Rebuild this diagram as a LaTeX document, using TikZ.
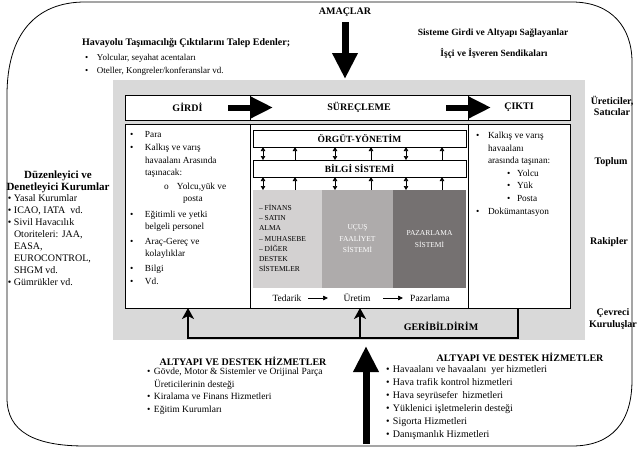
\documentclass[tikz,border=0pt]{standalone}
\usepackage{fontspec}
\setmainfont{Liberation Serif}
\usetikzlibrary{arrows.meta}
\definecolor{bggray}{HTML}{D9D9D9}
\definecolor{blkA}{HTML}{D3D1D1}
\definecolor{blkB}{HTML}{AEABAB}
\definecolor{blkC}{HTML}{757171}
\newcommand{\bul}[1][12pt]{\makebox[#1][l]{\textbullet}}
\newcommand{\ind}[1][12pt]{\hspace*{#1}}
\begin{document}
\begin{tikzpicture}[x=1pt,y=-1pt,
 every node/.style={inner sep=0pt,outer sep=0pt},
 lbl/.style={font=\bfseries\fontsize{10}{11.5}\selectfont, align=center},
 txt/.style={font=\fontsize{9.3}{12.3}\selectfont, align=left, anchor=north west},
 cell/.style={draw, line width=0.7pt, fill=white, anchor=north west},
 bigarrow/.style={line width=7pt, -{Triangle[length=26pt,width=24pt]}},
 hdrarrow/.style={line width=6pt, -{Triangle[length=22pt,width=20pt]}},
 sgl/.style={line width=0.6pt, -{Triangle[length=4pt,width=4.5pt]}},
 dbl/.style={line width=0.6pt, {Triangle[length=4pt,width=4.5pt]}-{Triangle[length=4pt,width=4.5pt]}},
 fb/.style={line width=2.6pt, line join=miter, -{Stealth[length=11pt,width=12pt,inset=3pt]}},
 flow/.style={line width=0.7pt, -{Triangle[length=5pt,width=4.5pt]}},
 blk/.style={anchor=north west, minimum height=98pt},
 wtxt/.style={font=\fontsize{7.5}{11.5}\selectfont, text=white, align=center}]
\useasboundingbox (0,0) rectangle (637,450);
% outer frame
\draw[line width=0.8pt] (7,95) .. controls (7,35) and (35,2) .. (85,2) -- (572,2)
  .. controls (612,2) and (632,28) .. (632,62) -- (632,380)
  .. controls (632,422) and (612,446) .. (572,446) -- (85,446)
  .. controls (35,446) and (7,432) .. (7,398) -- cycle;
% gray system area
\node[fill=bggray, anchor=north west, minimum width=472pt, minimum height=260pt] (bg) at (113,80) {};
% header row
\node[cell, minimum width=125pt, minimum height=25pt, lbl] (girdi) at (125,95) {GİRDİ};
\node[cell, minimum width=218pt, minimum height=25pt, lbl] (surec) at (250,95) {SÜREÇLEME};
\node[cell, minimum width=102pt, minimum height=25pt, lbl] (cikti) at (468,95) {ÇIKTI};
% body row
\node[cell, minimum width=125pt, minimum height=184pt] (lbody) at (125,124) {};
\node[cell, minimum width=218pt, minimum height=184pt] (mbody) at (250,124) {};
\node[cell, minimum width=102pt, minimum height=184pt] (rbody) at (468,124) {};
% header arrows
\coordinate (h1a) at (228,107.5); \coordinate (h1b) at (273,107.5);
\coordinate (h2a) at (446,107.5); \coordinate (h2b) at (491,107.5);
\draw[hdrarrow] (h1a) -- (h1b);
\draw[hdrarrow] (h2a) -- (h2b);
% organisation and information system
\node[cell, minimum width=213pt, minimum height=17pt, font=\bfseries\fontsize{9.5}{11}\selectfont] (org) at (253,130) {ÖRGÜT-YÖNETİM};
\node[cell, minimum width=213pt, minimum height=17pt, font=\bfseries\fontsize{9.5}{11}\selectfont] (bilgi) at (253,160) {BİLGİ SİSTEMİ};
% sub-systems
\node[blk, fill=blkA, minimum width=69pt] (ba) at (253,190) {};
\node[blk, fill=blkB, minimum width=71pt] (bb) at (322,190) {};
\node[blk, fill=blkC, minimum width=73pt] (bc) at (393,190) {};
\foreach \dx in {10,82,153} {
  \draw[dbl] ([xshift=\dx pt]bilgi.north west) -- ([xshift=\dx pt]org.south west);
  \draw[dbl] ([xshift=\dx pt]ba.north west) -- ([xshift=\dx pt]bilgi.south west);
}
\foreach \dx in {42,118,189} {
  \draw[sgl] ([xshift=\dx pt]bilgi.north west) -- ([xshift=\dx pt]org.south west);
  \draw[sgl] ([xshift=\dx pt]ba.north west) -- ([xshift=\dx pt]bilgi.south west);
}
\node[font=\fontsize{7.5}{10.3}\selectfont, align=left, anchor=north west] (ta) at (259,204)
  {– FİNANS\\– SATIN\\ALMA\\– MUHASEBE\\– DİĞER\\DESTEK\\SİSTEMLER};
\node[wtxt] (tb) at (bb.center) {UÇUŞ\\FAALİYET\\SİSTEMİ};
\node[wtxt] (tc) at (bc.center) {PAZARLAMA\\SİSTEMİ};
% flow row
\node[font=\fontsize{9.5}{11}\selectfont] (ted) at (287,298) {Tedarik};
\node[font=\fontsize{9.5}{11}\selectfont] (ure) at (357,298) {Üretim};
\node[font=\fontsize{9.5}{11}\selectfont] (paz) at (430,298) {Pazarlama};
\coordinate (f1a) at (308,298); \coordinate (f1b) at (328,298);
\coordinate (f2a) at (383,298); \coordinate (f2b) at (403,298);
\draw[flow] (f1a) -- (f1b);
\draw[flow] (f2a) -- (f2b);
% feedback loop
\coordinate (fbr) at (518,338); \coordinate (fbl) at (188,338); \coordinate (fbm) at (360,338);
\draw[fb] (fbr |- rbody.south) -- (fbr) -- (fbl) -- (fbl |- lbody.south);
\draw[fb] (fbm) -- (fbm |- mbody.south);
\node[lbl] (geri) at (441,326) {GERİBİLDİRİM};
% goals arrow
\node[lbl] (am) at (345,12) {AMAÇLAR};
\coordinate (am1) at (345,22); \coordinate (am2) at (345,79);
\draw[bigarrow] (am1) -- (am2);
% bottom arrow
\coordinate (ub1) at (366,444); \coordinate (ub2) at (366,346);
\draw[bigarrow] (ub1) -- (ub2);
% list in input box
\node[txt] (gl) at (130,131.5) {\bul[15pt]Para\\[1pt]\bul[15pt]Kalkış ve varış\\\ind[15pt]havaalanı Arasında\\\ind[15pt]taşınacak:\\[1.5pt]\hspace*{34pt}\makebox[13pt][l]{o}Yolcu,yük ve\\\hspace*{53pt}posta\\[3.5pt]\bul[15pt]Eğitimli ve yetki\\\ind[15pt]belgeli personel\\[2.5pt]\bul[15pt]Araç-Gereç ve\\\ind[15pt]kolaylıklar\\[2pt]\bul[15pt]Bilgi\\[1pt]\bul[15pt]Vd.};
% list in output box
\node[txt, font=\fontsize{9.3}{12.6}\selectfont] (cl) at (476,132) {\bul[12pt]Kalkış ve varış\\\ind[12pt]havaalanı\\\ind[12pt]arasında taşınan:\\\hspace*{31pt}\bul[10pt]Yolcu\\\hspace*{31pt}\bul[10pt]Yük\\\hspace*{31pt}\bul[10pt]Posta\\\bul[12pt]Dokümantasyon};
% top texts
\node[lbl, anchor=west] (talep) at (82,43) {Havayolu Taşımacılığı Çıktılarını Talep Edenler;};
\node[txt, font=\fontsize{9}{13.5}\selectfont] (talepl) at (85,54) {\bul Yolcular, seyahat acentaları\\\bul Oteller, Kongreler/konferanslar vd.};
\node[lbl, font=\bfseries\fontsize{9.5}{11}\selectfont] (sis) at (493,33) {Sisteme Girdi ve Altyapı Sağlayanlar};
\node[lbl, font=\bfseries\fontsize{9.5}{11}\selectfont] (sen) at (494,53) {İşçi ve İşveren Sendikaları};
% right labels
\node[lbl] (uret) at (612,106) {Üreticiler,\\Satıcılar};
\node[lbl] (toplum) at (611,162) {Toplum};
\node[lbl] (rak) at (609,242) {Rakipler};
\node[lbl] (cev) at (613,319) {Çevreci\\Kuruluşlar};
% left labels
\node[lbl, font=\bfseries\fontsize{11}{11.5}\selectfont] (duz) at (58,182) {Düzenleyici ve\\Denetleyici Kurumlar};
\node[txt, font=\fontsize{10}{12}\selectfont] (duzl) at (8,195) {\bul[6pt]Yasal Kurumlar\\\bul[6pt]ICAO, IATA\ \ vd.\\\bul[6pt]Sivil Havacılık\\\ind[6pt]Otoriteleri: JAA,\\\ind[6pt]EASA,\\\ind[6pt]EUROCONTROL,\\\ind[6pt]SHGM vd.\\\bul[6pt]Gümrükler vd.};
% bottom left
\node[lbl] (alt1) at (243,361) {ALTYAPI VE DESTEK HİZMETLER};
\node[txt, font=\fontsize{9.5}{12.5}\selectfont] (alt1l) at (147,368) {\bul[7pt]Gövde, Motor \& Sistemler ve Orijinal Parça\\\ind[7pt]Üreticilerinin desteği\\\bul[7pt]Kiralama ve Finans Hizmetleri\\\bul[7pt]Eğitim Kurumları};
% bottom right
\node[lbl] (alt2) at (520,357) {ALTYAPI VE DESTEK HİZMETLER};
\node[txt, font=\fontsize{10}{13}\selectfont] (alt2l) at (386,366) {\bul[7pt]Havaalanı ve havaalanı\ \ yer hizmetleri\\\bul[7pt]Hava trafik kontrol hizmetleri\\\bul[7pt]Hava seyrüsefer\ \ hizmetleri\\\bul[7pt]Yüklenici işletmelerin desteği\\\bul[7pt]Sigorta Hizmetleri\\\bul[7pt]Danışmanlık Hizmetleri};
\end{tikzpicture}
\end{document}
